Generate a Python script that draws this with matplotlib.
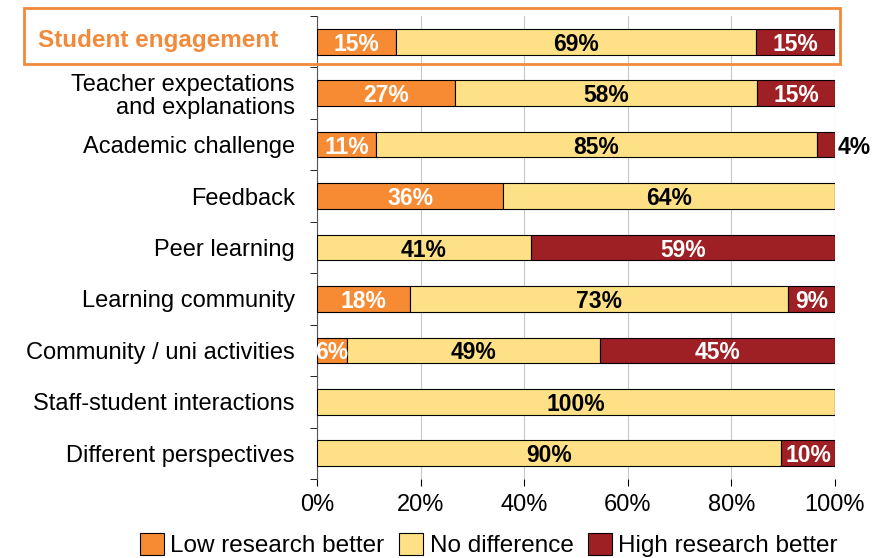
import numpy as np
import matplotlib.pyplot as plt
from matplotlib.patches import Rectangle

plt.rcParams['font.family'] = ['Liberation Sans', 'DejaVu Sans']

categories = ['Student engagement', 'Teacher expectations\nand explanations',
              'Academic challenge', 'Feedback', 'Peer learning',
              'Learning community', 'Community / uni activities',
              'Staff-student interactions', 'Different perspectives']
low_better = [15.3, 26.6, 11.4, 35.9, 0, 18.0, 5.8, 0, 0]
no_diff = [69.4, 58.3, 85.1, 64.1, 41.3, 72.9, 48.8, 100, 89.6]
high_better = [15.3, 15.1, 3.5, 0, 58.7, 9.1, 45.4, 0, 10.4]
series_names = ['Low research better', 'No difference', 'High research better']

colors = ['#F68B33', '#FEE187', '#9E1F24']
text_colors = ['white', 'black', 'white']
highlight = '#F28A3C'

fig = plt.figure(figsize=(8.9, 5.58), dpi=100)
ax = fig.add_axes([0.3562, 0.1416, 0.582, 0.8297])

y = np.arange(len(categories))
left = np.zeros(len(categories))
for vals, col, tcol, name in zip([low_better, no_diff, high_better], colors, text_colors, series_names):
    vals = np.array(vals, dtype=float)
    ax.barh(y, vals, left=left, height=0.5, color=col, edgecolor='black',
            linewidth=0.8, label=name, zorder=3)
    for i, v in enumerate(vals):
        if v <= 0:
            continue
        if v < 5:
            ax.text(left[i] + v + 0.6, y[i], f'{round(v)}%', ha='left', va='center_baseline',
                    fontsize=16.5, fontweight='bold', color='black', zorder=4, clip_on=False)
        else:
            ax.text(left[i] + v / 2, y[i], f'{round(v)}%', ha='center', va='center_baseline',
                    fontsize=16.5, fontweight='bold', color=tcol, zorder=4)
    left += vals

ax.set_xlim(0, 100)
ax.set_ylim(len(categories) - 0.5, -0.5)
ax.set_xticks(np.arange(0, 101, 20))
ax.set_xticklabels([f'{t}%' for t in range(0, 101, 20)], fontsize=17)
ax.set_yticks(y)
# first category is drawn as a highlighted label further below
ax.set_yticklabels([''] + categories[1:], fontsize=17, linespacing=1.05)
ax.set_yticks(np.arange(-0.5, len(categories), 1), minor=True)
ax.tick_params(axis='y', which='major', length=0, pad=16)
ax.tick_params(axis='y', which='minor', length=5, direction='out')
ax.tick_params(axis='x', length=5, direction='out', pad=6)
ax.grid(axis='x', color='#C8C8C8', linewidth=0.8, zorder=0)
for s in ['top', 'right', 'bottom']:
    ax.spines[s].set_visible(False)
ax.spines['left'].set_color('#555555')

fig.text(278 / 890, 1 - 40 / 558, categories[0], ha='right', va='center',
         fontsize=17.5, fontweight='bold', color=highlight)
fig.patches.append(Rectangle((24 / 890, 1 - 64 / 558), (840 - 24) / 890, 56 / 558,
                             transform=fig.transFigure, fill=False,
                             edgecolor=highlight, linewidth=2))

handles, labels = ax.get_legend_handles_labels()
fig.legend(handles, labels, loc='center', bbox_to_anchor=(489 / 890, 1 - 545 / 558),
           ncol=3, frameon=False, fontsize=17.5, handlelength=1.0, handleheight=1.0,
           handletextpad=0.25, columnspacing=0.6, borderaxespad=0, borderpad=0)

fig.savefig('out.png', dpi=100)
